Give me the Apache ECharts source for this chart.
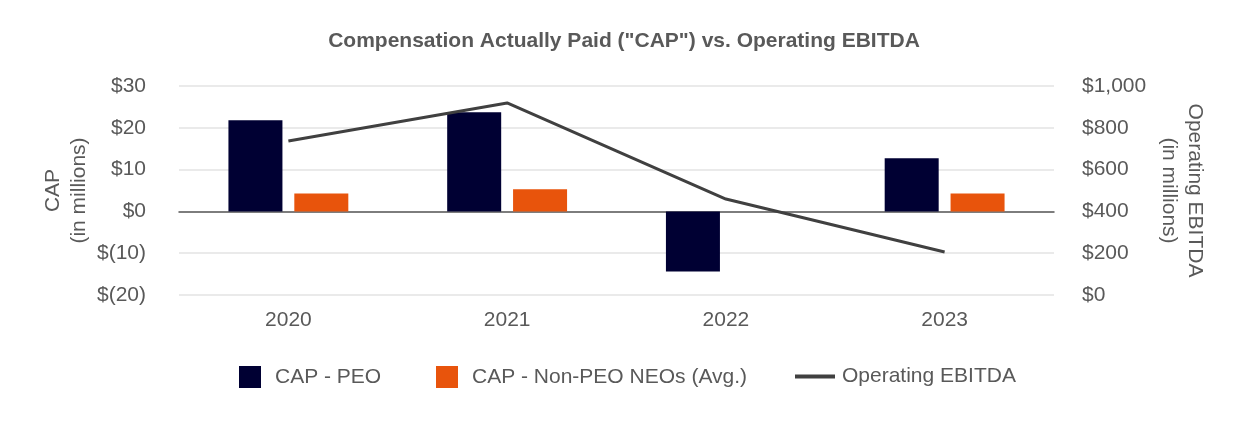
<!DOCTYPE html>
<html><head><meta charset="utf-8">
<script src="https://cdn.jsdelivr.net/npm/echarts@6/dist/echarts.min.js"></script>
<style>html,body{margin:0;padding:0;background:#fff}#c{width:1248px;height:422px}</style>
</head><body><div id="c"></div>
<script>
const categories = ['2020', '2021', '2022', '2023'];
const capPeo = [21.8, 23.7, -14.4, 12.7];
const capNonPeo = [4.3, 5.3, 0, 4.3];
const ebitda = [737, 919, 459, 206];
const leftTicks = [-20, 30, 10];
const rightTicks = [0, 1000, 200];
const seriesNames = ['CAP - PEO', 'CAP - Non-PEO NEOs (Avg.)', 'Operating EBITDA'];

const fmtLeft = v => v < 0 ? '$(' + Math.abs(v) + ')' : '$' + v;
const fmtRight = v => '$' + v.toLocaleString('en-US');
const txt = '#595959';
const font = 'Liberation Sans, Arial, sans-serif';
const sq = 'path://M0,0h22v22h-22z';
const ln = 'path://M0,0h40v4h-40z';
const legendLeft = [234, 431, 790];
const legendIcon = [sq, sq, ln];
const legendW = [22, 22, 40];

const chart = echarts.init(document.getElementById('c'));
chart.setOption({
  animation: false,
  textStyle: { fontFamily: font },
  title: {
    text: 'Compensation Actually Paid ("CAP") vs. Operating EBITDA',
    left: 'center', top: 26,
    textStyle: { fontSize: 21, fontWeight: 'bold', color: txt, fontFamily: font }
  },
  grid: { left: 179, right: 194, top: 86, bottom: 127 },
  legend: seriesNames.map((n, i) => ({
    top: 361, left: legendLeft[i], itemWidth: legendW[i], itemHeight: 22, itemGap: 0,
    textStyle: { fontSize: 21, color: txt, fontFamily: font, padding: [0, 0, 0, i < 2 ? 9 : 2] },
    data: [{ name: n, icon: legendIcon[i] }]
  })),
  xAxis: {
    type: 'category', data: categories,
    axisLine: { onZero: true, lineStyle: { color: '#595959', width: 1.5 } },
    axisTick: { show: false },
    axisLabel: { fontSize: 21, color: txt, margin: 15, fontFamily: font }
  },
  yAxis: [
    {
      type: 'value', min: leftTicks[0], max: leftTicks[1], interval: leftTicks[2],
      name: 'CAP\n(in millions)', nameLocation: 'middle', nameGap: 87, nameRotate: 90,
      nameMoveOverlap: false,
      nameTextStyle: { fontSize: 21, color: txt, lineHeight: 26, fontFamily: font },
      axisLabel: { formatter: fmtLeft, fontSize: 21, color: txt, margin: 33, fontFamily: font },
      axisLine: { show: false }, axisTick: { show: false },
      splitLine: { lineStyle: { color: '#e3e3e3', width: 1.5 } }
    },
    {
      type: 'value', min: rightTicks[0], max: rightTicks[1], interval: rightTicks[2],
      name: 'Operating EBITDA\n(in millions)', nameLocation: 'middle', nameGap: 102, nameRotate: -90,
      nameMoveOverlap: false,
      nameTextStyle: { fontSize: 21, color: txt, lineHeight: 26, fontFamily: font },
      axisLabel: { formatter: fmtRight, fontSize: 21, color: txt, margin: 28, fontFamily: font },
      axisLine: { show: false }, axisTick: { show: false },
      splitLine: { show: false }
    }
  ],
  series: [
    { name: seriesNames[0], type: 'bar', data: capPeo, barWidth: 54, barGap: '22%',
      itemStyle: { color: '#000033' } },
    { name: seriesNames[1], type: 'bar', data: capNonPeo, barWidth: 54,
      itemStyle: { color: '#E8540C' } },
    { name: seriesNames[2], type: 'line', yAxisIndex: 1, data: ebitda,
      symbol: 'none', lineStyle: { color: '#404040', width: 3 }, itemStyle: { color: '#404040' } }
  ]
});
</script>
</body></html>
